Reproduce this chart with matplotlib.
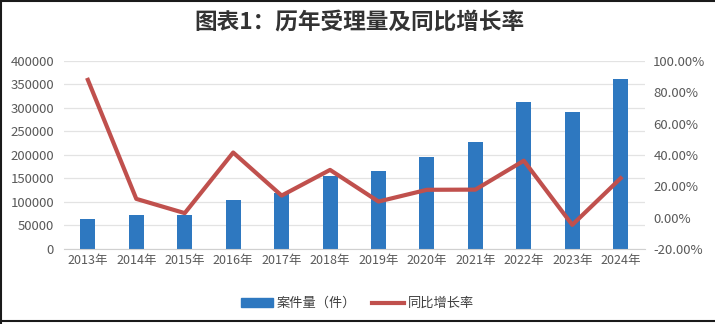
import matplotlib.pyplot as plt
from matplotlib.lines import Line2D
from matplotlib.patches import Patch
from matplotlib.ticker import FuncFormatter

plt.rcParams['font.family'] = ['Noto Sans CJK SC', 'DejaVu Sans']

# accepted cases per year and year-on-year growth (%)
years = ['2013年', '2014年', '2015年', '2016年', '2017年', '2018年',
         '2019年', '2020年', '2021年', '2022年', '2023年', '2024年']
cases = [64000, 73000, 72500, 104000, 118000, 154000,
         166500, 196000, 228000, 313000, 292000, 362000]
growth = [87.9, 11.9, 2.8, 41.5, 14.0, 30.4,
          10.2, 17.7, 17.8, 36.3, -4.7, 25.1]

bar_color = '#2E78C0'
line_color = '#C0504D'
tick_color = '#595959'

fig = plt.figure(figsize=(7.15, 3.24), dpi=100)
ax = fig.add_axes([0.089, 0.232, 0.813, 0.58])
ax2 = ax.twinx()

x = range(len(years))
ax.bar(x, cases, width=0.31, color=bar_color, zorder=2)
ax2.plot(x, growth, color=line_color, lw=3, zorder=3)

ax.set_ylim(0, 400000)
ax.set_yticks(range(0, 400001, 50000))
ax2.set_ylim(-20, 100)
ax2.set_yticks(range(-20, 101, 20))
ax2.yaxis.set_major_formatter(FuncFormatter(lambda v, p: f'{v:.2f}%'))
ax.set_xlim(-0.5, len(years) - 0.5)
ax.set_xticks(list(x))
ax.set_xticklabels(years)

ax.grid(axis='y', color='#E3E3E3', lw=0.9, zorder=0)
for a in (ax, ax2):
    for s in a.spines.values():
        s.set_visible(False)
    a.tick_params(length=0, labelsize=9.5, colors=tick_color)
ax.spines['bottom'].set_visible(True)
ax.spines['bottom'].set_color('#D0D0D0')
ax.tick_params(axis='y', pad=7)
ax2.tick_params(axis='y', pad=6)
ax.tick_params(axis='x', labelsize=9, pad=4)
ax.set_zorder(ax2.get_zorder() - 1)
ax.patch.set_visible(False)

fig.suptitle('图表1：历年受理量及同比增长率', x=0.503, y=0.968,
             fontsize=16.3, fontweight='bold', color='#333333')

handles = [Patch(color=bar_color), Line2D([], [], color=line_color, lw=3)]
fig.legend(handles, ['案件量（件）', '同比增长率'], loc='center',
           bbox_to_anchor=(0.5, 0.063), ncol=2, frameon=False,
           fontsize=9.5, handlelength=2.4, handleheight=0.6,
           columnspacing=1.2, handletextpad=0.3, labelcolor='#404040')

# outer frame on top, left and bottom
for xs, ys in (([0, 1], [0.996, 0.996]), ([0.002, 0.002], [0, 1]),
               ([0, 1], [0.009, 0.009])):
    fig.add_artist(Line2D(xs, ys, transform=fig.transFigure,
                          color='#1A1A1A', lw=1.5))

fig.savefig('out.png', dpi=100, facecolor='white')
